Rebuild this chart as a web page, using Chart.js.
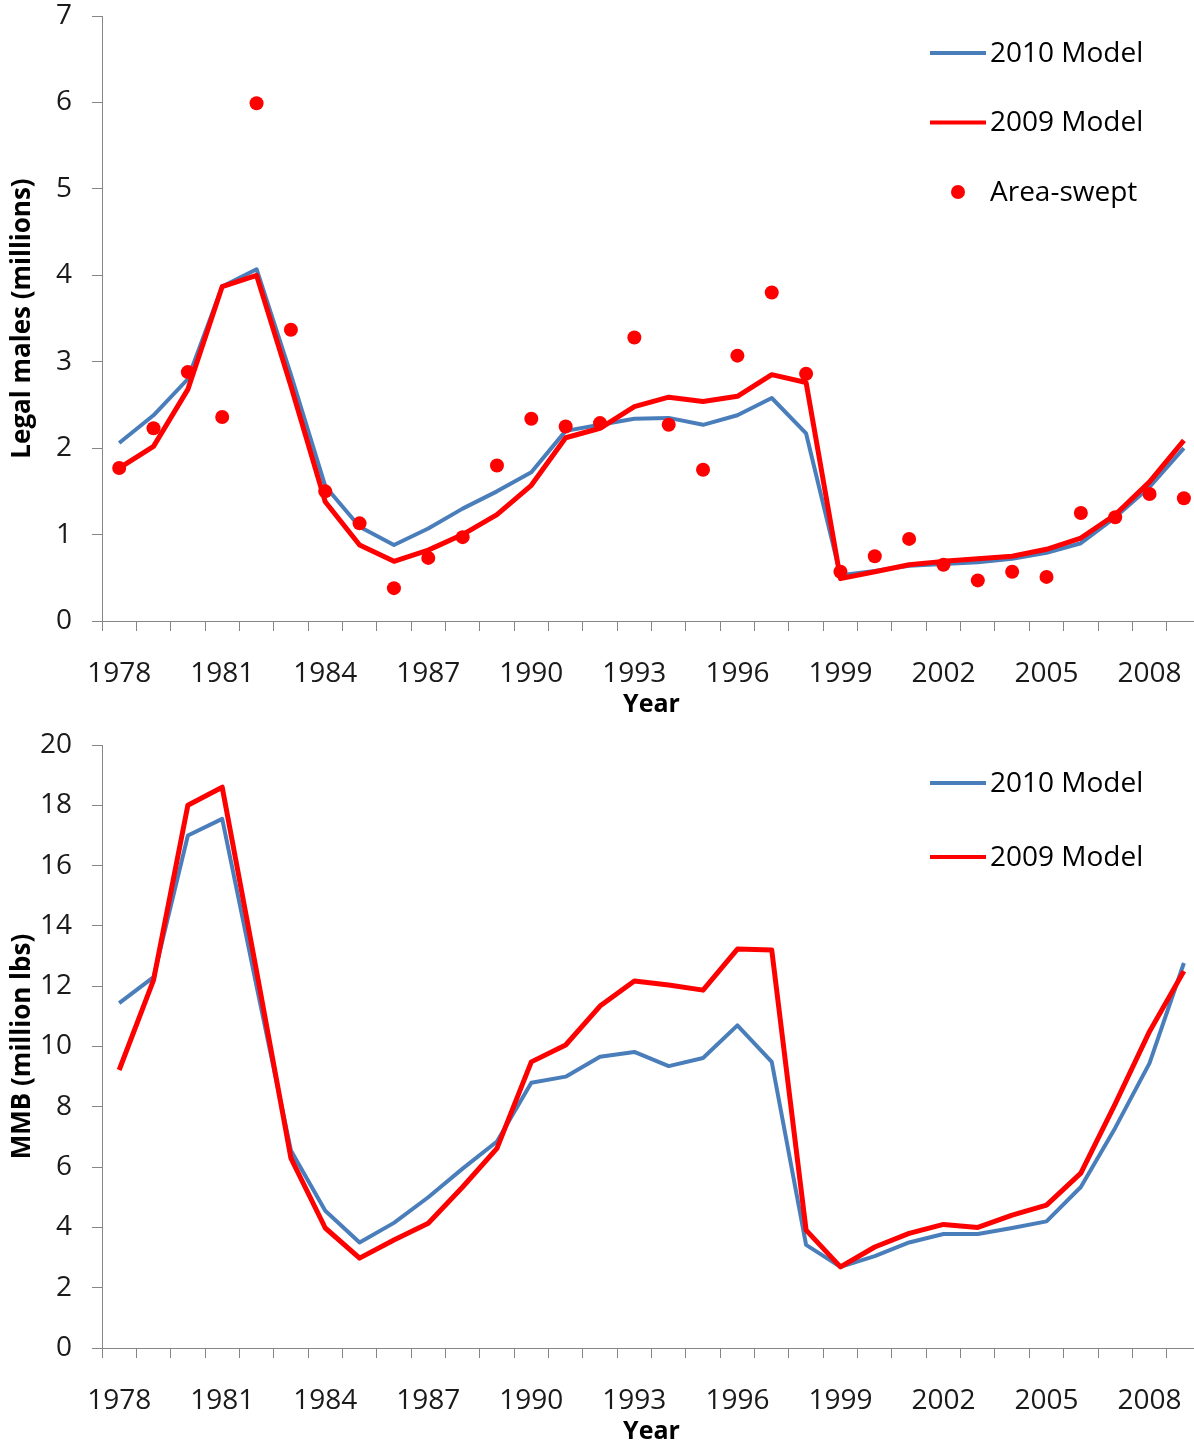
<!DOCTYPE html>
<html>
<head>
<meta charset="utf-8">
<script src="https://cdn.jsdelivr.net/npm/chart.js@4.4.1/dist/chart.umd.min.js"></script>
<style>
  html, body { margin: 0; padding: 0; background: #fff; }
  #wrap { width: 1194px; height: 1445px; overflow: hidden; position: relative; }
  canvas { display: block; }
</style>
</head>
<body>
<div id="wrap">
  <canvas id="legalChart" width="1210" height="725"></canvas>
  <canvas id="mmbChart" width="1210" height="727"></canvas>
</div>
<script>
/* ── Data ───────────────────────────────────────────────────────────────── */
const years = [
  '1978', '1979', '1980', '1981', '1982', '1983', '1984', '1985',
  '1986', '1987', '1988', '1989', '1990', '1991', '1992', '1993',
  '1994', '1995', '1996', '1997', '1998', '1999', '2000', '2001',
  '2002', '2003', '2004', '2005', '2006', '2007', '2008', '2009',
];

// legal males (millions)
const legal2010 = [
  2.06, 2.38, 2.80, 3.87, 4.07, 2.85, 1.56, 1.09,
  0.88, 1.07, 1.30, 1.50, 1.72, 2.20, 2.27, 2.34,
  2.35, 2.27, 2.38, 2.58, 2.17, 0.53, 0.58, 0.64,
  0.66, 0.68, 0.72, 0.79, 0.90, 1.20, 1.55, 2.00,
];
const legal2009 = [
  1.77, 2.02, 2.68, 3.87, 4.00, 2.72, 1.38, 0.88,
  0.69, 0.82, 1.00, 1.23, 1.57, 2.12, 2.23, 2.48,
  2.59, 2.54, 2.60, 2.85, 2.76, 0.49, 0.57, 0.65,
  0.69, 0.72, 0.75, 0.83, 0.96, 1.23, 1.61, 2.09,
];
const areaSwept = [
  1.77, 2.23, 2.88, 2.36, 5.99, 3.37, 1.50, 1.13,
  0.38, 0.73, 0.97, 1.80, 2.34, 2.25, 2.29, 3.28,
  2.27, 1.75, 3.07, 3.80, 2.86, 0.57, 0.75, 0.95,
  0.65, 0.47, 0.57, 0.51, 1.25, 1.20, 1.47, 1.42,
];

// MMB (million lbs)
const mmb2010 = [
  11.44, 12.30, 17.00, 17.55, 12.00, 6.55, 4.55, 3.50,
  4.15, 5.00, 5.95, 6.85, 8.80, 9.00, 9.66, 9.82,
  9.35, 9.62, 10.70, 9.49, 3.42, 2.69, 3.05, 3.50,
  3.78, 3.78, 3.98, 4.20, 5.34, 7.30, 9.45, 12.77,
];
const mmb2009 = [
  9.22, 12.20, 18.00, 18.60, 12.50, 6.30, 3.98, 2.98,
  3.58, 4.14, 5.34, 6.62, 9.49, 10.05, 11.34, 12.17,
  12.04, 11.87, 13.23, 13.20, 3.91, 2.69, 3.35, 3.80,
  4.10, 4.00, 4.41, 4.74, 5.80, 8.10, 10.50, 12.50,
];

/* ── Style ──────────────────────────────────────────────────────────────── */
const BLUE = '#4A7EBB';
const RED  = '#FF0000';
const AXIS = '#868686';
const FONT = "'Open Sans', sans-serif";

Chart.defaults.font.family = FONT;
Chart.defaults.color = '#1a1a1a';

// legend drawn inside the plot, stacked at top right
const insideLegend = {
  id: 'insideLegend',
  afterDraw(chart, args, opts) {
    const ctx = chart.ctx;
    ctx.save();
    ctx.font = '28px ' + FONT;
    ctx.textBaseline = 'middle';
    chart.data.datasets.forEach((ds, i) => {
      const y = opts.y0 + i * opts.gap;
      if (ds.showLine === false) {
        ctx.beginPath();
        ctx.fillStyle = ds.backgroundColor;
        ctx.arc(opts.x + 28, y, 7, 0, Math.PI * 2);
        ctx.fill();
      } else {
        ctx.beginPath();
        ctx.strokeStyle = ds.borderColor;
        ctx.lineWidth = 4;
        ctx.moveTo(opts.x, y);
        ctx.lineTo(opts.x + 56, y);
        ctx.stroke();
      }
      ctx.fillStyle = '#000';
      ctx.fillText(ds.label, opts.x + 60, y + 1);
    });
    ctx.restore();
  },
};

function lineSet(label, data, color, width, order) {
  return {
    label, data, order,
    borderColor: color, backgroundColor: color,
    borderWidth: width, pointRadius: 0,
    borderJoinStyle: 'round', tension: 0,
  };
}

function makeOptions(yTitle, yMax, yStep, padTop, legend) {
  return {
    responsive: false,
    animation: false,
    layout: { padding: { top: padTop, right: 7, left: 0, bottom: 0 } },
    plugins: { legend: { display: false }, tooltip: { enabled: false }, insideLegend: legend },
    scales: {
      x: {
        type: 'category',
        offset: true,
        grid: { display: true, drawOnChartArea: false, drawTicks: true, tickLength: 10, offset: true, color: AXIS },
        border: { display: true, color: AXIS, width: 1 },
        ticks: {
          autoSkip: false, maxRotation: 0, padding: 26,
          font: { size: 28 }, color: '#1a1a1a',
          callback(v, i) { return i % 3 === 0 ? this.getLabelForValue(v) : ''; },
        },
        title: { display: true, text: 'Year', font: { size: 25, weight: 'bold' }, color: '#000', padding: { top: 0, bottom: 5 } },
        afterFit(s) { s.height = 104; },
      },
      y: {
        min: 0, max: yMax,
        grid: { display: true, drawOnChartArea: false, drawTicks: true, tickLength: 10, color: AXIS },
        border: { display: true, color: AXIS, width: 1 },
        ticks: { stepSize: yStep, padding: 20, font: { size: 28 }, color: '#1a1a1a' },
        title: { display: true, text: yTitle, font: { size: 26, weight: 'bold' }, color: '#000', padding: { top: 7, bottom: 0 } },
        afterFit(s) { s.width = 102; s.paddingTop = 0; s.paddingBottom = 0; },
      },
    },
  };
}

/* ── Charts ─────────────────────────────────────────────────────────────── */
new Chart(document.getElementById('legalChart'), {
  type: 'line',
  data: {
    labels: years,
    datasets: [
      lineSet('2010 Model', legal2010, BLUE, 4, 2),
      lineSet('2009 Model', legal2009, RED, 5, 1),
      {
        label: 'Area-swept', data: areaSwept, order: 0,
        showLine: false, pointRadius: 7, pointHoverRadius: 7,
        borderColor: RED, backgroundColor: RED, pointBorderWidth: 0,
      },
    ],
  },
  options: makeOptions('Legal males (millions)', 7, 1, 16, { x: 930, y0: 53, gap: 69.5 }),
  plugins: [insideLegend],
});

new Chart(document.getElementById('mmbChart'), {
  type: 'line',
  data: {
    labels: years,
    datasets: [
      lineSet('2010 Model', mmb2010, BLUE, 4, 2),
      lineSet('2009 Model', mmb2009, RED, 5, 1),
    ],
  },
  options: makeOptions('MMB (million lbs)', 20, 2, 20, { x: 930, y0: 58, gap: 74 }),
  plugins: [insideLegend],
});
</script>
</body>
</html>
